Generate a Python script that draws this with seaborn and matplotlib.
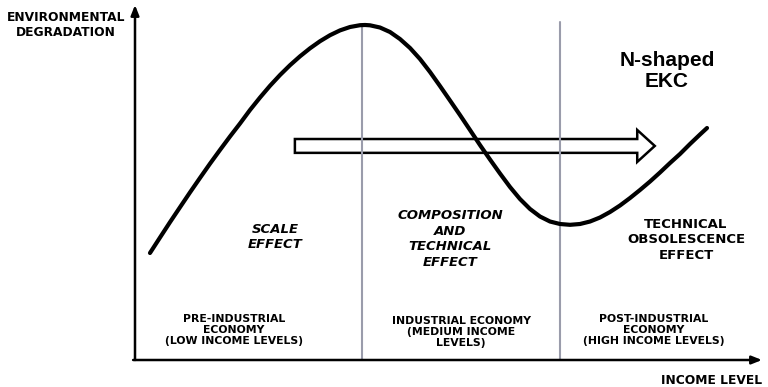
import numpy as np
import matplotlib
matplotlib.use("Agg")
import matplotlib.pyplot as plt
import pandas as pd
import seaborn as sns

# N-shaped EKC curve (income 0-100, degradation 0-100)
income = [2.39, 3.99, 5.58, 7.18, 8.77, 10.37, 11.96, 13.56, 15.15, 16.75, 18.34,
          19.94, 21.53, 23.13, 24.72, 26.32, 27.91, 29.51, 31.10, 32.70, 34.29,
          35.89, 36.68, 37.48, 39.07, 40.67, 42.26, 43.86, 45.45, 47.05, 48.64,
          50.24, 51.83, 53.43, 55.02, 56.62, 58.21, 59.81, 61.40, 63.00, 64.59,
          66.19, 67.78, 69.38, 70.97, 72.57, 74.16, 75.76, 77.35, 78.95, 80.54,
          82.14, 83.73, 85.33, 86.92, 88.52, 90.11, 91.23]
degradation = [30.14, 34.51, 38.82, 43.04, 47.21, 51.30, 55.30, 59.18, 62.96, 66.62, 70.42,
               73.94, 77.24, 80.28, 83.04, 85.55, 87.80, 89.80, 91.49, 92.85, 93.80,
               94.31, 94.37, 94.28, 93.66, 92.39, 90.42, 87.89, 84.79, 81.13, 77.18,
               73.10, 69.01, 64.79, 60.56, 56.48, 52.54, 48.73, 45.35, 42.54, 40.42,
               39.01, 38.31, 38.08, 38.31, 39.01, 40.14, 41.69, 43.52, 45.63, 47.89,
               50.28, 52.82, 55.49, 58.03, 60.85, 63.52, 65.35]

# stage boundaries and how high their lines reach
boundaries = [36.2, 67.8]
boundary_tops = [94.4, 95.2]

effect_labels = ["SCALE\nEFFECT",
                 "COMPOSITION\nAND\nTECHNICAL\nEFFECT",
                 "TECHNICAL\nOBSOLESCENCE\nEFFECT"]
stage_labels = ["PRE-INDUSTRIAL\nECONOMY\n(LOW INCOME LEVELS)",
                "INDUSTRIAL ECONOMY\n(MEDIUM INCOME\nLEVELS)",
                "POST-INDUSTRIAL\nECONOMY\n(HIGH INCOME LEVELS)"]

sns.set_theme(style="white")
plt.rcParams['font.family'] = ['DejaVu Sans']
plt.rcParams['text.color'] = 'black'

fig = plt.figure(figsize=(7.68, 3.87), dpi=100)
ax = fig.add_axes([135 / 768, 27 / 387, 627 / 768, 355 / 387])
ax.set_xlim(0, 100)
ax.set_ylim(0, 100)
for s in ax.spines.values():
    s.set_visible(False)
ax.set_xticks([])
ax.set_yticks([])

# axes with arrow heads
ax.annotate("", xy=(0, 1), xytext=(0, 0), xycoords="axes fraction",
            arrowprops=dict(arrowstyle="-|>,head_length=0.5,head_width=0.2", lw=1.8, color="black",
                            shrinkA=0, shrinkB=0))
ax.annotate("", xy=(1, 0), xytext=(-0.003, 0), xycoords="axes fraction",
            arrowprops=dict(arrowstyle="-|>,head_length=0.5,head_width=0.2", lw=1.8, color="black",
                            shrinkA=0, shrinkB=0))

# hollow arrow for the direction of development
ax.arrow(25.5, 60.3, 57.4, 0, width=3.9, head_width=9, head_length=2.8,
         length_includes_head=True, fc="white", ec="black", lw=1.8, zorder=1)

for b, top in zip(boundaries, boundary_tops):
    ax.plot([b, b], [0, top], color="#9a9cab", lw=1.5, zorder=2)

df = pd.DataFrame({"income": income, "degradation": degradation})
sns.lineplot(data=df, x="income", y="degradation", sort=False, color="black",
             lw=3, ax=ax, zorder=3)
ax.set_xlabel("")
ax.set_ylabel("")

def px(x, y):
    return (x - 135) / 6.27, (360 - y) / 3.55

effect_pos = [px(275, 237), px(450, 239), px(686, 240)]
for i, (lab, pos) in enumerate(zip(effect_labels, effect_pos)):
    ax.text(*pos, lab, ha="center", va="center", fontsize=9.5, fontweight="bold",
            style="normal" if i == 2 else "italic", linespacing=1.25)

stage_pos = [px(234, 330), px(461, 332), px(654, 330)]
for lab, pos in zip(stage_labels, stage_pos):
    ax.text(*pos, lab, ha="center", va="center", fontsize=7.8, fontweight="bold",
            linespacing=1.1)

ax.text(*px(667, 71), "N-shaped\nEKC", ha="center", va="center", fontsize=15,
        fontweight="bold", family="Liberation Sans", linespacing=1.1)

fig.text(66 / 768, 1 - 25 / 387, "ENVIRONMENTAL\nDEGRADATION", ha="center", va="center",
         fontsize=8.8, fontweight="bold", linespacing=1.2)
fig.text(762 / 768, 1 - 380 / 387, "INCOME LEVEL", ha="right", va="center",
         fontsize=8.8, fontweight="bold")

fig.savefig("out.png", dpi=100)
